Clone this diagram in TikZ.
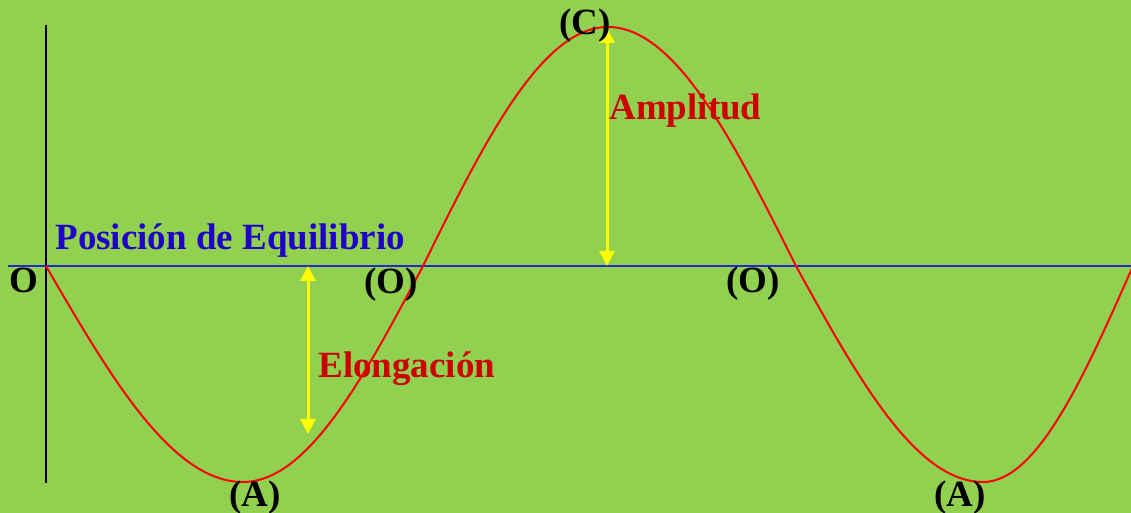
\documentclass[tikz,border=0pt]{standalone}
\usepackage{fontspec}
\setmainfont{Liberation Serif}
\usepackage{xcolor}
\usepackage{tikz}
\usetikzlibrary{arrows.meta, calc}
\definecolor{OscGreen}{RGB}{146, 208, 80}
\definecolor{OscBlue}{RGB}{32, 0, 200}
\definecolor{OscAxis}{RGB}{40, 40, 200}
\definecolor{OscRed}{RGB}{204, 0, 0}
\definecolor{OscWave}{RGB}{255, 0, 0}
\definecolor{OscYellow}{RGB}{255, 255, 0}

\tikzset{
  pointlabel/.style={anchor=base, inner sep=0pt, font=\fontsize{18.5}{22}\selectfont\bfseries, text=black},
  quantitylabel/.style={anchor=base west, inner sep=0pt, font=\fontsize{18.5}{22}\selectfont\bfseries, text=OscRed},
  measurearrow/.style={draw=OscYellow, line width=1.5pt, {Triangle[width=7.5pt, length=7.5pt]}-{Triangle[width=7.5pt, length=7.5pt]}}
}

\begin{document}
\begin{tikzpicture}[x=0.5pt, y=-0.5pt]
    % background
    \fill[OscGreen] (0,0) rectangle (1131,513);
    \useasboundingbox (0,0) rectangle (1131,513);

    % axes
    \draw[black, line width=1.2pt] (46,25) -- (46,483);
    \draw[OscAxis, line width=1.2pt] (8,266) -- (1131,266);

    % the wave
    \draw[OscWave, line width=1pt]
      (46,266) .. controls (110.2,376.7) and (171.7,482) .. (243,482)
               .. controls (308.1,482) and (364.3,376.7) .. (423,266)
               .. controls (483.3,143.6) and (541.0,27) .. (608,27)
               .. controls (676.0,27) and (734.7,143.6) .. (796,266)
               .. controls (857.0,376.7) and (915.3,482) .. (983,482)
               .. controls (1037.3,482) and (1084.1,376.7) .. (1133,266);

    % points on the wave
    \coordinate (crest) at (607,28);
    \coordinate (crestbase) at (607,266);
    \coordinate (elongbase) at (308,266);
    \coordinate (elongtip) at (308,434);

    \draw[measurearrow] (crestbase) -- (crest);
    \draw[measurearrow] (elongbase) -- (elongtip);

    % labels
    \node[anchor=base west, inner sep=0pt, font=\fontsize{18.5}{22}\selectfont\bfseries, text=OscBlue]
      (equilibrio) at (55,250) {Posición de Equilibrio};
    \node[quantitylabel] (amplitud) at (609,120) {Amplitud};
    \node[quantitylabel] (elongacion) at (318,378) {Elongación};

    \node[pointlabel, anchor=base west] (origen) at (9,293) {O};
    \node[pointlabel] (cruceA) at (391,294) {(O)};
    \node[pointlabel] (cruceB) at (753,293) {(O)};
    \node[pointlabel] (cresta) at (585,35) {(C)};
    \node[pointlabel] (valleA) at (255,507) {(A)};
    \node[pointlabel] (valleB) at (960,507) {(A)};
\end{tikzpicture}
\end{document}
